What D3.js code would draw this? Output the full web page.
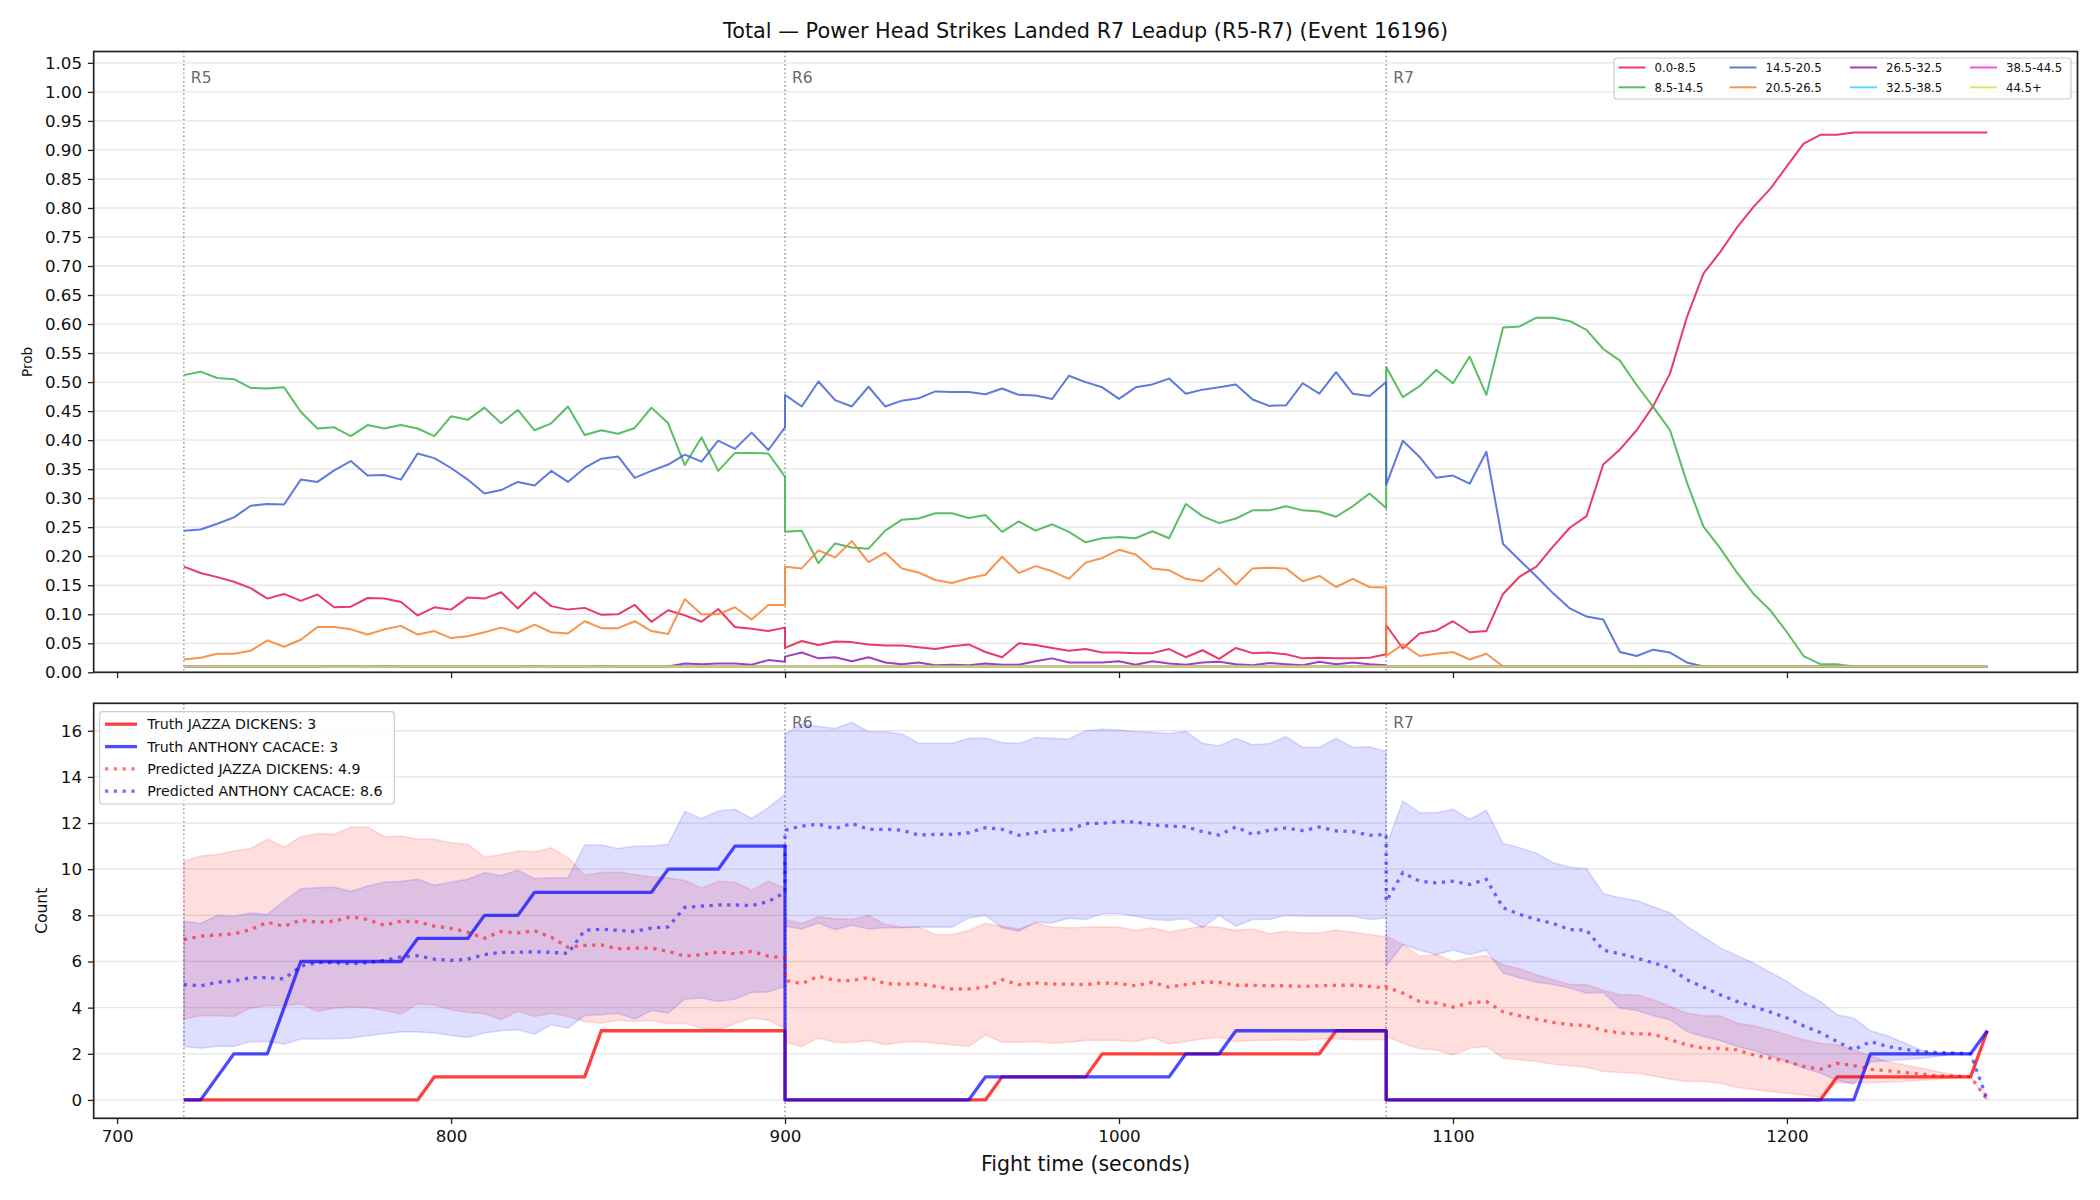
<!DOCTYPE html>
<html><head><meta charset="utf-8">
<script src="https://cdn.jsdelivr.net/npm/d3@7"></script>
<style>
body{margin:0;background:#fff}
text{font-family:"DejaVu Sans",sans-serif;fill:#111}
</style>
</head><body>
<svg id="chart" width="2100" height="1200" xmlns="http://www.w3.org/2000/svg"></svg>
<script>
// ---------------- DATA ----------------
const chartTitle = "Total \u2014 Power Head Strikes Landed R7 Leadup (R5-R7) (Event 16196)";
const roundLabels = ["R5","R6","R7"];
const roundStarts = [720, 900, 1080];
const xTickValues = [700, 800, 900, 1000, 1100, 1200];
const probTickValues = [0,0.05,0.10,0.15,0.20,0.25,0.30,0.35,0.40,0.45,0.50,0.55,0.60,0.65,0.70,0.75,0.80,0.85,0.90,0.95,1.00,1.05];
const countTickValues = [0,2,4,6,8,10,12,14,16];

const fightTime = [
 720,725,730,735,740,745,750,755,760,765,770,775,780,785,790,795,800,805,810,815,820,825,830,835,840,845,850,855,860,865,870,875,880,885,890,895,900,
 900,905,910,915,920,925,930,935,940,945,950,955,960,965,970,975,980,985,990,995,1000,1005,1010,1015,1020,1025,1030,1035,1040,1045,1050,1055,1060,1065,1070,1075,1080,
 1080,1085,1090,1095,1100,1105,1110,1115,1120,1125,1130,1135,1140,1145,1150,1155,1160,1165,1170,1175,1180,1185,1190,1195,1200,1205,1210,1215,1220,1225,1230,1235,1240,1245,1250,1255,1260];

const binLabels = ["0.0-8.5","8.5-14.5","14.5-20.5","20.5-26.5","26.5-32.5","32.5-38.5","38.5-44.5","44.5+"];
const binColors = ["#e6194b","#3cb44b","#4363d8","#f58231","#911eb4","#42d4f4","#f032e6","#bfef45"];

const prob_0_8 = [
 0.182,0.171,0.164,0.156,0.145,0.127,0.135,0.123,0.134,0.112,0.113,0.128,0.127,0.121,0.098,0.112,0.108,0.129,0.127,0.138,0.110,0.138,0.114,0.108,0.111,0.099,0.100,0.116,0.087,0.107,0.098,0.087,0.109,0.078,0.075,0.071,0.077,
 0.042,0.054,0.047,0.053,0.052,0.048,0.046,0.046,0.043,0.040,0.045,0.048,0.035,0.026,0.050,0.047,0.042,0.037,0.040,0.034,0.034,0.033,0.033,0.040,0.026,0.038,0.023,0.042,0.033,0.034,0.031,0.024,0.025,0.024,0.024,0.025,0.031,
 0.081,0.041,0.067,0.072,0.088,0.069,0.071,0.135,0.165,0.182,0.217,0.249,0.269,0.358,0.384,0.417,0.459,0.515,0.611,0.687,0.724,0.766,0.802,0.833,0.872,0.911,0.926,0.926,0.930,0.930,0.930,0.930,0.930,0.930,0.930,0.930,0.930];
const prob_8_14 = [
 0.512,0.518,0.507,0.505,0.490,0.489,0.491,0.449,0.420,0.422,0.407,0.426,0.420,0.426,0.420,0.407,0.441,0.435,0.456,0.429,0.452,0.417,0.429,0.458,0.409,0.417,0.411,0.421,0.456,0.429,0.357,0.405,0.347,0.378,0.378,0.377,0.337,
 0.242,0.244,0.188,0.222,0.215,0.213,0.244,0.263,0.265,0.274,0.274,0.266,0.271,0.242,0.260,0.244,0.255,0.242,0.224,0.231,0.233,0.231,0.243,0.231,0.290,0.269,0.257,0.265,0.279,0.279,0.286,0.279,0.277,0.268,0.286,0.308,0.283,
 0.526,0.474,0.493,0.521,0.498,0.544,0.478,0.594,0.596,0.611,0.611,0.605,0.590,0.557,0.537,0.495,0.457,0.417,0.328,0.251,0.214,0.172,0.135,0.107,0.069,0.028,0.014,0.014,0.010,0.010,0.010,0.010,0.010,0.010,0.010,0.010,0.010];
const prob_14_20 = [
 0.244,0.246,0.256,0.267,0.287,0.290,0.289,0.332,0.328,0.348,0.364,0.339,0.340,0.332,0.377,0.369,0.352,0.332,0.308,0.314,0.328,0.322,0.347,0.328,0.352,0.368,0.372,0.335,0.347,0.358,0.375,0.363,0.399,0.385,0.413,0.383,0.422,
 0.478,0.458,0.501,0.469,0.458,0.492,0.458,0.468,0.472,0.484,0.483,0.483,0.479,0.489,0.478,0.477,0.471,0.511,0.500,0.491,0.471,0.491,0.496,0.506,0.480,0.487,0.491,0.496,0.470,0.459,0.460,0.498,0.480,0.517,0.480,0.476,0.500,
 0.323,0.399,0.371,0.335,0.339,0.325,0.380,0.221,0.193,0.165,0.136,0.110,0.096,0.091,0.035,0.028,0.039,0.034,0.017,0.010,0.010,0.010,0.010,0.010,0.010,0.010,0.010,0.010,0.010,0.010,0.010,0.010,0.010,0.010,0.010,0.010,0.010];
const prob_20_26 = [
 0.022,0.025,0.032,0.032,0.037,0.055,0.044,0.056,0.078,0.078,0.074,0.065,0.074,0.080,0.065,0.071,0.059,0.062,0.069,0.077,0.069,0.082,0.069,0.067,0.088,0.076,0.076,0.088,0.071,0.066,0.126,0.100,0.100,0.112,0.091,0.116,0.116,
 0.182,0.179,0.210,0.198,0.226,0.190,0.206,0.179,0.172,0.159,0.154,0.162,0.168,0.199,0.171,0.183,0.174,0.161,0.189,0.197,0.211,0.203,0.179,0.176,0.161,0.157,0.179,0.151,0.179,0.180,0.179,0.157,0.166,0.147,0.161,0.147,0.146,
 0.028,0.048,0.028,0.032,0.035,0.022,0.032,0.010,0.010,0.010,0.010,0.010,0.010,0.010,0.010,0.010,0.010,0.010,0.010,0.010,0.010,0.010,0.010,0.010,0.010,0.010,0.010,0.010,0.010,0.010,0.010,0.010,0.010,0.010,0.010,0.010,0.010];
const prob_26_32 = [
 0.010,0.010,0.010,0.010,0.010,0.010,0.010,0.010,0.010,0.011,0.011,0.010,0.011,0.010,0.010,0.010,0.010,0.010,0.010,0.010,0.010,0.011,0.010,0.010,0.010,0.011,0.010,0.010,0.010,0.010,0.015,0.014,0.015,0.015,0.013,0.021,0.018,
 0.027,0.034,0.024,0.026,0.019,0.026,0.017,0.014,0.017,0.012,0.013,0.012,0.015,0.013,0.013,0.019,0.024,0.017,0.017,0.017,0.019,0.013,0.019,0.015,0.013,0.017,0.018,0.014,0.012,0.016,0.014,0.012,0.018,0.014,0.017,0.014,0.012,
 0.010,0.010,0.010,0.010,0.010,0.010,0.010,0.010,0.010,0.010,0.010,0.010,0.010,0.010,0.010,0.010,0.010,0.010,0.010,0.010,0.010,0.010,0.010,0.010,0.010,0.010,0.010,0.010,0.010,0.010,0.010,0.010,0.010,0.010,0.010,0.010,0.010];
const prob_32_38 = [
 0.010,0.010,0.010,0.010,0.010,0.010,0.010,0.010,0.010,0.010,0.010,0.010,0.010,0.010,0.010,0.010,0.010,0.010,0.010,0.010,0.010,0.010,0.010,0.010,0.010,0.010,0.010,0.010,0.010,0.010,0.010,0.010,0.010,0.010,0.010,0.010,0.010,
 0.010,0.010,0.010,0.010,0.010,0.010,0.010,0.010,0.010,0.010,0.010,0.010,0.010,0.010,0.010,0.010,0.010,0.010,0.010,0.010,0.010,0.010,0.010,0.010,0.010,0.010,0.010,0.010,0.010,0.010,0.010,0.010,0.010,0.010,0.010,0.010,0.010,
 0.010,0.010,0.010,0.010,0.010,0.010,0.010,0.010,0.010,0.010,0.010,0.010,0.010,0.010,0.010,0.010,0.010,0.010,0.010,0.010,0.010,0.010,0.010,0.010,0.010,0.010,0.010,0.010,0.010,0.010,0.010,0.010,0.010,0.010,0.010,0.010,0.010];
const prob_38_44 = [
 0.010,0.010,0.010,0.010,0.010,0.010,0.010,0.010,0.010,0.010,0.010,0.010,0.010,0.010,0.010,0.010,0.010,0.010,0.010,0.010,0.010,0.010,0.010,0.010,0.010,0.010,0.010,0.010,0.010,0.010,0.010,0.010,0.010,0.010,0.010,0.010,0.010,
 0.010,0.010,0.010,0.010,0.010,0.010,0.010,0.010,0.010,0.010,0.010,0.010,0.010,0.010,0.010,0.010,0.010,0.010,0.010,0.010,0.010,0.010,0.010,0.010,0.010,0.010,0.010,0.010,0.010,0.010,0.010,0.010,0.010,0.010,0.010,0.010,0.010,
 0.010,0.010,0.010,0.010,0.010,0.010,0.010,0.010,0.010,0.010,0.010,0.010,0.010,0.010,0.010,0.010,0.010,0.010,0.010,0.010,0.010,0.010,0.010,0.010,0.010,0.010,0.010,0.010,0.010,0.010,0.010,0.010,0.010,0.010,0.010,0.010,0.010];
const prob_44_up = [
 0.010,0.010,0.010,0.010,0.010,0.010,0.010,0.010,0.010,0.010,0.010,0.010,0.010,0.010,0.010,0.010,0.010,0.010,0.010,0.010,0.010,0.010,0.010,0.010,0.010,0.010,0.010,0.010,0.010,0.010,0.010,0.010,0.010,0.010,0.010,0.010,0.010,
 0.010,0.010,0.010,0.010,0.010,0.010,0.010,0.010,0.010,0.010,0.010,0.010,0.010,0.010,0.010,0.010,0.010,0.010,0.010,0.010,0.010,0.010,0.010,0.010,0.010,0.010,0.010,0.010,0.010,0.010,0.010,0.010,0.010,0.010,0.010,0.010,0.010,
 0.010,0.010,0.010,0.010,0.010,0.010,0.010,0.010,0.010,0.010,0.010,0.010,0.010,0.010,0.010,0.010,0.010,0.010,0.010,0.010,0.010,0.010,0.010,0.010,0.010,0.010,0.010,0.010,0.010,0.010,0.010,0.010,0.010,0.010,0.010,0.010,0.010];
const probSeries = [prob_0_8, prob_8_14, prob_14_20, prob_20_26, prob_26_32, prob_32_38, prob_38_44, prob_44_up];

const fighterLabels = ["JAZZA DICKENS","ANTHONY CACACE"];
const truthFinal = [3, 3];
const predictedFinal = [4.9, 8.6];

const truthJazza = [
 0,0,0,0,0,0,0,0,0,0,0,0,0,0,0,1,1,1,1,1,1,1,1,1,1,3,3,3,3,3,3,3,3,3,3,3,3,
 0,0,0,0,0,0,0,0,0,0,0,0,0,1,1,1,1,1,1,2,2,2,2,2,2,2,2,2,2,2,2,2,2,3,3,3,3,
 0,0,0,0,0,0,0,0,0,0,0,0,0,0,0,0,0,0,0,0,0,0,0,0,0,0,0,1,1,1,1,1,1,1,1,1,3];
const truthCacace = [
 0,0,1,2,2,2,4,6,6,6,6,6,6,6,7,7,7,7,8,8,8,9,9,9,9,9,9,9,9,10,10,10,10,11,11,11,11,
 0,0,0,0,0,0,0,0,0,0,0,0,1,1,1,1,1,1,1,1,1,1,1,1,2,2,2,3,3,3,3,3,3,3,3,3,3,
 0,0,0,0,0,0,0,0,0,0,0,0,0,0,0,0,0,0,0,0,0,0,0,0,0,0,0,0,0,2,2,2,2,2,2,2,3];

const predJazza = [
 6.95,7.1,7.15,7.2,7.38,7.7,7.53,7.79,7.7,7.75,7.94,7.82,7.57,7.75,7.72,7.53,7.44,7.27,7.01,7.3,7.24,7.33,7.05,6.62,6.7,6.72,6.55,6.58,6.58,6.44,6.23,6.3,6.41,6.34,6.44,6.23,6.15,
 5.18,5.04,5.36,5.18,5.17,5.31,5.04,5.02,5.04,4.92,4.81,4.81,4.89,5.21,5.0,5.07,5.02,5.02,5.0,5.07,5.04,4.95,5.1,4.89,5.0,5.1,5.1,4.97,4.97,4.95,4.95,4.92,4.95,4.97,4.97,4.92,4.85,
 4.89,4.63,4.27,4.2,4.03,4.2,4.27,3.82,3.65,3.5,3.36,3.26,3.23,3.01,2.9,2.87,2.85,2.61,2.39,2.24,2.23,2.17,1.95,1.81,1.67,1.45,1.33,1.59,1.49,1.33,1.27,1.19,1.13,1.04,1.04,1.01,0];
const predCacace = [
 5.0,4.95,5.1,5.15,5.3,5.3,5.25,5.8,5.95,5.95,5.9,5.95,6.05,6.2,6.25,6.1,6.05,6.1,6.3,6.4,6.4,6.42,6.4,6.35,7.35,7.4,7.35,7.3,7.45,7.5,8.35,8.4,8.45,8.45,8.42,8.6,9.0,
 11.69,11.87,11.95,11.76,11.98,11.73,11.73,11.69,11.48,11.51,11.51,11.58,11.8,11.73,11.47,11.58,11.69,11.69,11.98,11.99,12.06,12.05,11.92,11.87,11.84,11.63,11.48,11.83,11.51,11.69,11.79,11.67,11.83,11.66,11.63,11.47,11.51,
 8.6,9.85,9.48,9.41,9.48,9.34,9.56,8.33,8.04,7.82,7.65,7.38,7.36,6.49,6.34,6.15,5.94,5.72,5.21,4.89,4.56,4.27,4.05,3.81,3.55,3.21,2.92,2.53,2.17,2.53,2.32,2.2,2.1,2.06,2.03,2.0,0];

const upperJazza = [
 10.35,10.57,10.64,10.79,10.9,11.3,10.96,11.41,11.54,11.51,11.83,11.83,11.41,11.44,11.3,11.3,11.15,11.08,10.53,10.64,10.79,10.76,10.93,10.5,9.75,9.85,9.88,9.77,9.67,9.63,9.51,9.18,9.48,9.44,9.09,9.48,9.19,
 7.82,7.65,7.94,7.86,7.82,8.0,7.6,7.5,7.49,7.17,7.17,7.34,7.65,7.53,7.41,7.67,7.49,7.46,7.49,7.5,7.49,7.34,7.46,7.28,7.41,7.53,7.49,7.34,7.41,7.21,7.31,7.24,7.24,7.36,7.28,7.17,7.07,
 7.1,6.73,6.23,6.3,6.0,6.15,6.26,5.86,5.68,5.43,5.21,5.0,5.0,4.75,4.56,4.56,4.34,4.05,3.76,3.65,3.65,3.33,3.21,3.04,2.82,2.61,2.46,2.39,2.17,1.91,1.67,1.52,1.38,1.23,1.09,1.01,0];
const lowerJazza = [
 3.5,3.65,3.65,3.62,3.98,4.08,4.08,4.17,3.84,3.98,4.03,4.0,3.88,3.72,4.17,4.11,3.91,3.79,3.74,3.48,3.84,3.62,3.76,3.62,3.4,3.33,3.45,3.4,3.45,3.3,3.33,3.11,3.04,3.3,3.55,3.45,3.11,
 2.49,2.32,2.68,2.49,2.49,2.58,2.39,2.5,2.53,2.46,2.39,2.32,2.82,2.5,2.5,2.53,2.46,2.5,2.58,2.58,2.58,2.53,2.71,2.43,2.53,2.64,2.72,2.53,2.58,2.58,2.61,2.58,2.64,2.64,2.61,2.61,2.61,
 2.75,2.46,2.22,2.17,1.95,2.24,2.32,1.81,1.74,1.67,1.55,1.48,1.42,1.23,1.19,1.16,1.04,0.9,0.8,0.8,0.72,0.54,0.46,0.36,0.29,0.22,0.1,0.75,0.75,0.75,0.78,0.8,0.85,0.9,0.95,1.0,0];
const upperCacace = [
 7.75,7.65,8.0,7.96,8.1,8.04,8.62,9.15,9.2,9.22,9.04,9.27,9.44,9.48,9.56,9.3,9.44,9.56,9.85,9.73,9.96,9.59,9.63,9.63,11.05,11.05,10.9,11.0,11.0,11.08,12.5,12.2,12.52,12.6,12.2,12.67,13.25,
 15.86,16.29,16.19,16.1,16.36,15.96,15.96,15.86,15.46,15.46,15.46,15.67,15.68,15.49,15.45,15.71,15.67,15.64,16.0,16.07,16.03,15.97,15.93,15.88,15.97,15.46,15.35,15.67,15.39,15.45,15.74,15.28,15.28,15.68,15.28,15.31,15.1,
 11.0,12.96,12.45,12.45,12.6,12.16,12.55,11.12,10.93,10.69,10.28,10.09,10.02,8.95,8.76,8.64,8.37,8.11,7.53,7.07,6.59,6.26,5.94,5.53,5.14,4.66,4.27,3.69,3.55,3.0,2.78,2.49,2.17,1.98,2.05,2.0,0];
const lowerCacace = [
 2.32,2.24,2.32,2.32,2.53,2.53,2.42,2.64,2.64,2.65,2.68,2.78,2.87,2.95,2.95,2.9,2.79,2.71,2.9,3.0,3.04,2.85,3.26,3.11,3.66,3.69,3.76,3.5,3.88,3.76,4.37,4.42,4.27,4.37,4.66,4.68,4.92,
 7.53,7.41,7.67,7.38,7.57,7.41,7.46,7.46,7.5,7.49,7.49,7.89,8.0,7.46,7.31,7.7,7.67,7.88,7.82,8.07,8.07,7.96,7.82,7.78,7.86,7.46,8.0,7.53,7.82,7.82,8.0,7.96,7.96,7.96,7.96,7.82,7.89,
 5.8,6.73,6.49,6.3,6.49,6.3,6.49,5.5,5.29,5.1,5.0,4.85,4.63,4.66,3.98,3.88,3.65,3.48,2.97,2.75,2.58,2.32,2.14,1.91,1.67,1.38,1.16,0.87,0.68,1.65,1.7,1.74,1.8,1.88,2.0,2.0,0];

// ---------------- LAYOUT ----------------
const FONT = '"DejaVu Sans", sans-serif';
const L = 93.7, R = 2077.5;
const topT = 51.5, topB = 672.3, botT = 703.3, botB = 1118.3;
const svg = d3.select("#chart");
svg.append("rect").attr("width",2100).attr("height",1200).attr("fill","#fff");

const x = d3.scaleLinear().domain([693, 1287]).range([L, R]);
const yTop = d3.scaleLinear().domain([0, 1.0696]).range([topB, topT]);
const yBot = d3.scaleLinear().domain([-0.795, 17.19]).range([botB, botT]);

// title
svg.append("text").attr("x",(L+R)/2).attr("y",38).attr("text-anchor","middle")
  .style("font-size","20.8px").text(chartTitle);

function grid(yScale, vals){
  svg.append("g").selectAll("line").data(vals).join("line")
    .attr("x1",L).attr("x2",R).attr("y1",d=>yScale(d)).attr("y2",d=>yScale(d))
    .attr("stroke","#b0b0b0").attr("stroke-opacity",0.32).attr("stroke-width",1.3);
}
grid(yTop, probTickValues);
grid(yBot, countTickValues);

// round separators; labels in the lower panel skip the one hidden by its legend
function roundLines(y0, y1, yScale, labelIdx){
  const g = svg.append("g");
  g.selectAll("line").data(roundStarts).join("line")
    .attr("x1",d=>x(d)).attr("x2",d=>x(d)).attr("y1",y0).attr("y2",y1)
    .attr("stroke","#707070").attr("stroke-opacity",0.8).attr("stroke-width",1.3)
    .attr("stroke-dasharray","1.6,2.6");
  const ty = yScale(yScale.domain()[1]*0.97);
  g.selectAll("text").data(labelIdx).join("text")
    .attr("x",i=>x(roundStarts[i])+7).attr("y",ty+13)
    .style("font-size","15.5px").style("fill","#555").style("fill-opacity",0.9)
    .text(i=>roundLabels[i]);
}
roundLines(topT, topB, yTop, [0,1,2]);
roundLines(botT, botB, yBot, [1,2]);

// ---------------- TOP PANEL ----------------
const topLine = d3.line().x((d,i)=>x(fightTime[i])).y(d=>yTop(d));
svg.append("g").selectAll("path").data(probSeries).join("path")
  .attr("d",topLine).attr("fill","none")
  .attr("stroke",(d,i)=>binColors[i]).attr("stroke-opacity",0.85)
  .attr("stroke-width",2).attr("stroke-linejoin","round");

// ---------------- BOTTOM PANEL ----------------
const bandArea = (lo,hi) => d3.area().x((d,i)=>x(fightTime[i])).y0((d,i)=>yBot(lo[i])).y1((d,i)=>yBot(hi[i]))(fightTime);
[[lowerJazza,upperJazza,"#ff0000"],[lowerCacace,upperCacace,"#0000ff"]].forEach(([lo,hi,c])=>{
  svg.append("path").attr("d",bandArea(lo,hi)).attr("fill",c).attr("fill-opacity",0.13)
    .attr("stroke",c).attr("stroke-opacity",0.12).attr("stroke-width",1.6);
});
const botLine = d3.line().x((d,i)=>x(fightTime[i])).y(d=>yBot(d));
svg.append("path").attr("d",botLine(truthJazza)).attr("fill","none").attr("stroke","#ff0000")
  .attr("stroke-opacity",0.75).attr("stroke-width",3.3).attr("stroke-linejoin","round");
svg.append("path").attr("d",botLine(truthCacace)).attr("fill","none").attr("stroke","#0000ff")
  .attr("stroke-opacity",0.7).attr("stroke-width",3.3).attr("stroke-linejoin","round");
svg.append("path").attr("d",botLine(predJazza)).attr("fill","none").attr("stroke","#ff0000")
  .attr("stroke-opacity",0.55).attr("stroke-width",3.3).attr("stroke-dasharray","3.3,5.5");
svg.append("path").attr("d",botLine(predCacace)).attr("fill","none").attr("stroke","#0000ff")
  .attr("stroke-opacity",0.55).attr("stroke-width",3.3).attr("stroke-dasharray","3.3,5.5");

// ---------------- AXES ----------------
function styleAxis(g){
  g.select(".domain").remove();
  g.selectAll(".tick line").attr("stroke","#222").attr("stroke-width",1.3);
  g.selectAll(".tick text").style("font-family",FONT).style("font-size","16.7px").attr("fill","#111");
}
svg.append("g").attr("transform",`translate(0,${topB})`)
  .call(d3.axisBottom(x).tickValues(xTickValues).tickFormat("").tickSize(5.8)).call(styleAxis);
svg.append("g").attr("transform",`translate(0,${botB})`)
  .call(d3.axisBottom(x).tickValues(xTickValues).tickFormat(d3.format("d")).tickSize(5.8).tickPadding(5.8)).call(styleAxis);
svg.append("g").attr("transform",`translate(${L},0)`)
  .call(d3.axisLeft(yTop).tickValues(probTickValues).tickFormat(d3.format(".2f")).tickSize(5.8).tickPadding(5.8)).call(styleAxis);
svg.append("g").attr("transform",`translate(${L},0)`)
  .call(d3.axisLeft(yBot).tickValues(countTickValues).tickFormat(d3.format("d")).tickSize(5.8).tickPadding(5.8)).call(styleAxis);

// frames
[[topT,topB],[botT,botB]].forEach(([t,b])=>{
  svg.append("rect").attr("x",L).attr("y",t).attr("width",R-L).attr("height",b-t)
    .attr("fill","none").attr("stroke","#222").attr("stroke-width",1.7);
});

// axis labels
svg.append("text").attr("transform",`translate(32,${(topT+topB)/2}) rotate(-90)`)
  .attr("text-anchor","middle").style("font-size","13.6px").text("Prob");
svg.append("text").attr("transform",`translate(47,${(botT+botB)/2}) rotate(-90)`)
  .attr("text-anchor","middle").style("font-size","15.5px").text("Count");
svg.append("text").attr("x",(L+R)/2).attr("y",1171).attr("text-anchor","middle")
  .style("font-size","20.5px").text("Fight time (seconds)");

// ---------------- LEGENDS ----------------
const lgTop = svg.append("g");
lgTop.append("rect").attr("x",1614).attr("y",58).attr("width",457).attr("height",41).attr("rx",3)
  .attr("fill","#fff").attr("fill-opacity",0.8).attr("stroke","#cccccc").attr("stroke-width",1.2);
const colX = [1618.5, 1729.5, 1850, 1970];
const rowY = [67.5, 87.3];
binLabels.forEach((lab,i)=>{
  const cx = colX[Math.floor(i/2)], cy = rowY[i%2];
  lgTop.append("line").attr("x1",cx).attr("x2",cx+27).attr("y1",cy).attr("y2",cy)
    .attr("stroke",binColors[i]).attr("stroke-opacity",0.85).attr("stroke-width",2);
  lgTop.append("text").attr("x",cx+36).attr("y",cy+4.2).style("font-size","11.7px").text(lab);
});

const lgBot = svg.append("g");
lgBot.append("rect").attr("x",99.7).attr("y",711.7).attr("width",294.6).attr("height",92.3).attr("rx",3)
  .attr("fill","#fff").attr("fill-opacity",0.8).attr("stroke","#cccccc").attr("stroke-width",1.2);
const botItems = [
  {label:`Truth ${fighterLabels[0]}: ${truthFinal[0]}`, color:"#ff0000", op:0.75, dash:null},
  {label:`Truth ${fighterLabels[1]}: ${truthFinal[1]}`, color:"#0000ff", op:0.7, dash:null},
  {label:`Predicted ${fighterLabels[0]}: ${predictedFinal[0]}`, color:"#ff0000", op:0.55, dash:"3.3,5.5"},
  {label:`Predicted ${fighterLabels[1]}: ${predictedFinal[1]}`, color:"#0000ff", op:0.55, dash:"3.3,5.5"}
];
const botRowY = [724.2, 746.6, 768.9, 791.2];
botItems.forEach((it,i)=>{
  const cy = botRowY[i];
  const ln = lgBot.append("line").attr("x1",105).attr("x2",137).attr("y1",cy).attr("y2",cy)
    .attr("stroke",it.color).attr("stroke-opacity",it.op).attr("stroke-width",3.3);
  if(it.dash) ln.attr("stroke-dasharray",it.dash);
  lgBot.append("text").attr("x",147.3).attr("y",cy+5).style("font-size","14.2px").text(it.label);
});
</script>
</body></html>
